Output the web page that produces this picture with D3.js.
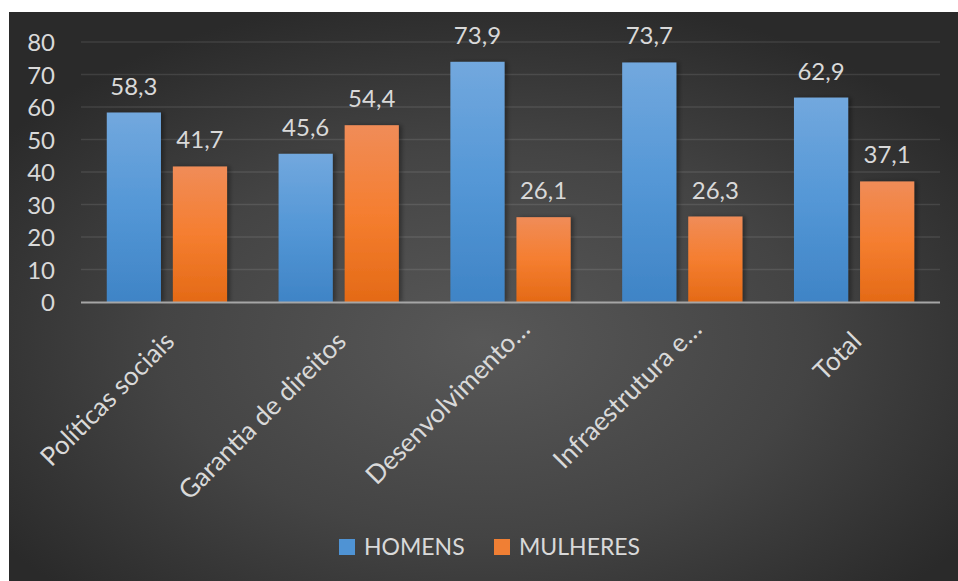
<!DOCTYPE html>
<html>
<head>
<meta charset="utf-8">
<script src="https://cdn.jsdelivr.net/npm/d3@7"></script>
<style>
  html, body { margin: 0; padding: 0; background: #ffffff; }
  svg { display: block; }
  text { font-family: Lato, "Open Sans", sans-serif; fill: #d9d9d9; }
</style>
</head>
<body>
<svg id="chart" width="958" height="581"></svg>
<script>
// Participation by area, men vs women (%)
const categories = ["Políticas sociais", "Garantia de direitos", "Desenvolvimento…", "Infraestrutura e…", "Total"];
const homens = [58.3, 45.6, 73.9, 73.7, 62.9];
const mulheres = [41.7, 54.4, 26.1, 26.3, 37.1];
const seriesNames = ["HOMENS", "MULHERES"];
const yTicks = [0, 10, 20, 30, 40, 50, 60, 70, 80];

const fmt = v => String(v).replace(".", ",");

const svg = d3.select("#chart");
const W = 958, H = 581;
const panel = { x: 9, y: 12, w: W - 9, h: H - 12 };
const plot = { left: 81, right: 940, top: 42, bottom: 302 };

const defs = svg.append("defs");

// dark panel with a soft central glow
const bg = defs.append("radialGradient").attr("id", "bgGrad")
  .attr("cx", "50%").attr("cy", "58%").attr("r", "62%");
bg.append("stop").attr("offset", "0%").attr("stop-color", "#585858");
bg.append("stop").attr("offset", "55%").attr("stop-color", "#444444");
bg.append("stop").attr("offset", "100%").attr("stop-color", "#2a2a2a");

const blueGrad = defs.append("linearGradient").attr("id", "blueGrad")
  .attr("x1", 0).attr("y1", 0).attr("x2", 0).attr("y2", 1);
blueGrad.append("stop").attr("offset", "0%").attr("stop-color", "#72a8de");
blueGrad.append("stop").attr("offset", "50%").attr("stop-color", "#5497d6");
blueGrad.append("stop").attr("offset", "100%").attr("stop-color", "#3f84c6");

const orangeGrad = defs.append("linearGradient").attr("id", "orangeGrad")
  .attr("x1", 0).attr("y1", 0).attr("x2", 0).attr("y2", 1);
orangeGrad.append("stop").attr("offset", "0%").attr("stop-color", "#f08c58");
orangeGrad.append("stop").attr("offset", "50%").attr("stop-color", "#f57e30");
orangeGrad.append("stop").attr("offset", "100%").attr("stop-color", "#e46a16");

const shadow = defs.append("filter").attr("id", "barShadow")
  .attr("x", "-20%").attr("y", "-10%").attr("width", "140%").attr("height", "120%");
shadow.append("feDropShadow").attr("dx", 3).attr("dy", 0)
  .attr("stdDeviation", 2).attr("flood-color", "#000").attr("flood-opacity", 0.35);

svg.append("rect")
  .attr("x", panel.x).attr("y", panel.y)
  .attr("width", panel.w).attr("height", panel.h)
  .attr("fill", "url(#bgGrad)");

// scales
const x0 = d3.scaleBand().domain(categories)
  .range([plot.left, plot.right]).paddingInner(0.3).paddingOuter(0.15);
const x1 = d3.scaleBand().domain(seriesNames)
  .range([0, x0.bandwidth()]).paddingInner(0.18);
const y = d3.scaleLinear().domain([0, 80]).range([plot.bottom, plot.top]);

// gridlines
svg.append("g").selectAll("line")
  .data(yTicks.filter(t => t > 0))
  .join("line")
  .attr("x1", plot.left).attr("x2", plot.right)
  .attr("y1", d => y(d)).attr("y2", d => y(d))
  .attr("stroke", "#ffffff").attr("stroke-opacity", 0.1).attr("stroke-width", 1.5);

// y axis labels
const yAxis = d3.axisLeft(y).tickValues(yTicks).tickSize(0).tickPadding(0);
const yg = svg.append("g").attr("transform", `translate(${plot.left - 26},0)`).call(yAxis);
yg.select(".domain").remove();
yg.selectAll("text")
  .attr("font-size", 24).attr("fill", "#d9d9d9")
  .attr("font-family", "Lato, 'Open Sans', sans-serif")
  .attr("dy", "0.36em");

// bars
const data = categories.map((c, i) => ({ cat: c, values: [homens[i], mulheres[i]] }));
const fills = ["url(#blueGrad)", "url(#orangeGrad)"];

const groups = svg.append("g").selectAll("g")
  .data(data).join("g")
  .attr("transform", d => `translate(${x0(d.cat)},0)`);

groups.selectAll("rect")
  .data(d => d.values.map((v, j) => ({ v, j })))
  .join("rect")
  .attr("x", d => x1(seriesNames[d.j]))
  .attr("y", d => y(d.v))
  .attr("width", x1.bandwidth())
  .attr("height", d => y(0) - y(d.v))
  .attr("fill", d => fills[d.j])
  .attr("filter", "url(#barShadow)");

groups.selectAll("text.val")
  .data(d => d.values.map((v, j) => ({ v, j })))
  .join("text")
  .attr("class", "val")
  .attr("x", d => x1(seriesNames[d.j]) + x1.bandwidth() / 2)
  .attr("y", d => y(d.v) - 18)
  .attr("text-anchor", "middle")
  .attr("font-size", 24)
  .text(d => fmt(d.v));

// baseline axis
svg.append("line")
  .attr("x1", plot.left).attr("x2", plot.right)
  .attr("y1", y(0) + 0.5).attr("y2", y(0) + 0.5)
  .attr("stroke", "#a6a6a6").attr("stroke-width", 2);

// rotated category labels; clipped labels run to the end of their slot
svg.append("g").selectAll("text.cat")
  .data(categories).join("text")
  .attr("class", "cat")
  .attr("transform", d => {
    const cx = x0(d) + x0.bandwidth() / 2;
    const shift = d.endsWith("…") ? 12 : 0;
    return `translate(${cx + 9 + shift},${343 - shift}) rotate(-45)`;
  })
  .attr("text-anchor", "end")
  .attr("font-size", 26)
  .text(d => d);

// legend
const legend = svg.append("g");
const legendItems = [
  { name: seriesNames[0], fill: "#4f93d4", x: 339 },
  { name: seriesNames[1], fill: "#f07f34", x: 494 }
];
const li = legend.selectAll("g").data(legendItems).join("g")
  .attr("transform", d => `translate(${d.x},539)`);
li.append("rect").attr("width", 16).attr("height", 16).attr("fill", d => d.fill);
li.append("text").attr("x", 25).attr("y", 16).attr("font-size", 23).text(d => d.name);
</script>
</body>
</html>
